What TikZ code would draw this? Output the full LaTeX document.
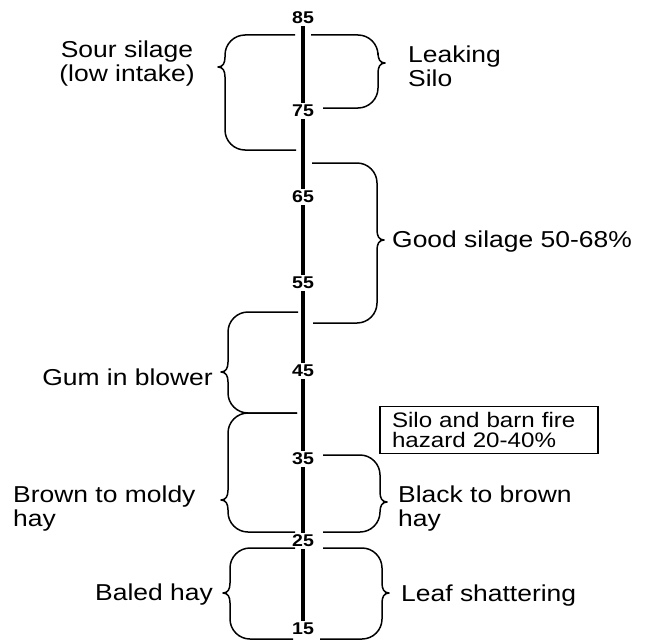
\documentclass[tikz,border=0pt]{standalone}
\usepackage{fontspec}
\setmainfont{Liberation Sans}[FakeStretch=1.15]
\usepackage{tikz}

% brace: name, top arm x, top y, spine x, tip y, bottom y, bottom arm x, side (+1 right, -1 left)
\newcommand{\bracket}[8]{%
  \draw[brc] (#2,#3) -- ({#4-(#8)*20},#3) .. controls ({#4-(#8)*9},#3) and (#4,{#3+9}) .. (#4,{#3+20})
    -- (#4,{#5-10}) .. controls (#4,{#5-4}) and ({#4+(#8)*2},#5) .. ({#4+(#8)*7},#5) coordinate (#1)
    .. controls ({#4+(#8)*2},#5) and (#4,{#5+4}) .. (#4,{#5+10})
    -- (#4,{#6-20}) .. controls (#4,{#6-9}) and ({#4-(#8)*9},#6) .. ({#4-(#8)*20},#6) -- (#7,#6);}

\begin{document}
\begin{tikzpicture}[x=1pt, y=-1pt,
    num/.style={font=\bfseries\fontsize{17}{17}\selectfont, fill=white, inner sep=2pt},
    axis/.style={line width=3.5pt},
    brc/.style={line width=1.5pt, line join=round},
    lbl/.style={font=\fontsize{23}{24}\selectfont, inner sep=0pt},
    firebox/.style={draw, line width=1.8pt, minimum width=218pt, minimum height=47pt,
      text width=194pt, inner xsep=12pt, align=left, font=\fontsize{21}{20}\selectfont},
  ]
    \useasboundingbox (0,0) rectangle (660,642);

    % Scale
    \foreach \v/\y in {85/18,75/111,65/197,55/283,45/371,35/459,25/541,15/629}
      \node[num] (n\v) at (303,\y) {\v};
    \foreach \a/\b in {85/75,75/65,65/55,55/45,45/35,35/25,25/15}
      \draw[axis] (n\a) -- (n\b);

    % Braces
    \bracket{sour}{295}{35}{225}{67}{150}{296}{-1}
    \bracket{leak}{311}{35}{378}{63}{108}{323}{1}
    \bracket{good}{312}{163}{377}{240}{323}{313}{1}
    \bracket{gum}{298}{312}{228}{372}{413}{297}{-1}
    \bracket{brown}{297}{413}{228}{500}{532}{295}{-1}
    \bracket{black}{323}{455}{380}{502}{532}{323}{1}
    \bracket{baled}{295}{548}{230}{593}{639}{293}{-1}
    \bracket{leaf}{323}{548}{382}{593}{639}{320}{1}

    % Labels
    \node[lbl, align=center] (sourlbl) at (127,64) {Sour silage\\(low intake)};
    \node[lbl, anchor=west, align=left] (leaklbl) at (408,66) {Leaking\\Silo};
    \node[lbl, anchor=west] (goodlbl) at (392,242) {Good silage 50-68\%};
    \node[lbl, anchor=east] (gumlbl) at (213,377) {Gum in blower};
    \node[lbl, anchor=west, align=left] (brownlbl) at (13,509) {Brown to moldy\\hay};
    \node[lbl, anchor=west, align=left] (blacklbl) at (398,509) {Black to brown\\hay};
    \node[lbl, anchor=east] (baledlbl) at (213,595) {Baled hay};
    \node[lbl, anchor=west] (leaflbl) at (401,596) {Leaf shattering};

    % Fire hazard
    \node[firebox] (fire) at (489,430) {Silo and barn fire\\hazard 20-40\%};
\end{tikzpicture}
\end{document}
